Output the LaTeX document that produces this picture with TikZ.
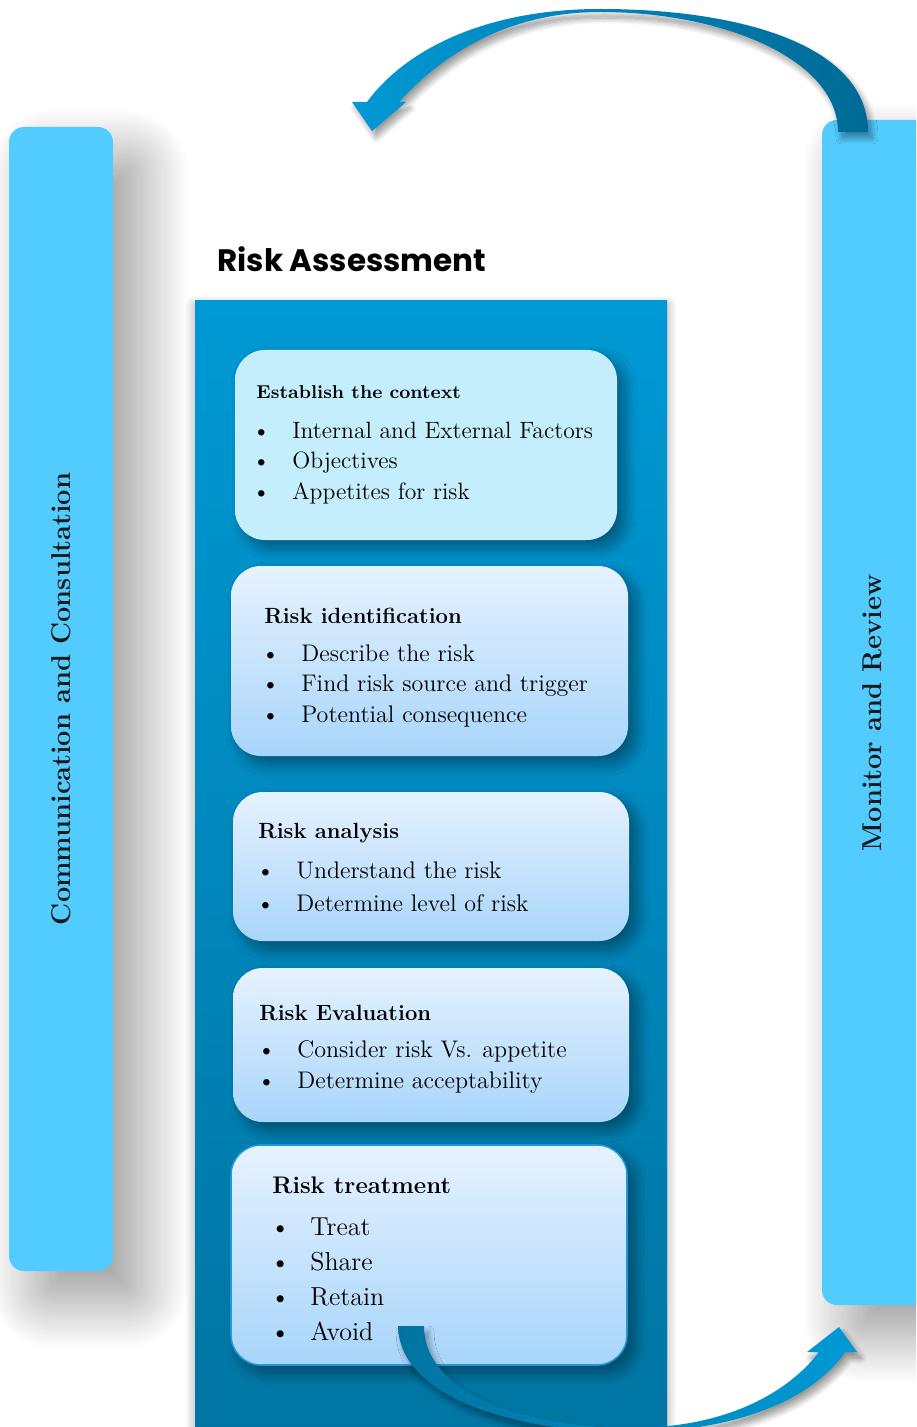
\documentclass[tikz,border=0pt]{standalone}
\usepackage{fontspec}
\newfontfamily\headfont{Poppins}
\usetikzlibrary{positioning,shadows.blur}

\definecolor{barblue}{HTML}{52CCFF}
\definecolor{paneltop}{HTML}{0099D5}
\definecolor{panelbot}{HTML}{0074A1}
\definecolor{ctxfill}{HTML}{C5EEFD}
\definecolor{boxtop}{HTML}{E6F2FF}
\definecolor{boxbot}{HTML}{A8D5FA}
\definecolor{arrowdark}{HTML}{006A96}
\definecolor{arrowlight}{HTML}{0099D6}
\definecolor{edgeblue}{HTML}{1E9BD7}

\begin{document}
\begin{tikzpicture}[x=0.5pt,y=-0.5pt]

\tikzset{sidebar/.style={fill=barblue, rounded corners=7.5pt,
    blur shadow={shadow xshift=14pt, shadow yshift=-15pt, shadow blur radius=24pt,
      shadow blur steps=40, shadow opacity=40}}};
\tikzset{sidelabel/.style={inner sep=0, font=\fontsize{13.6}{16}\selectfont\bfseries, text=black!90}};
\tikzset{riskbox/.style={rounded corners=15pt, inner sep=0,
    top color=boxtop, bottom color=boxbot,
    blur shadow={shadow xshift=4pt, shadow yshift=-4pt, shadow blur radius=6pt,
      shadow blur steps=20, shadow opacity=40}}};
\tikzset{boxtitle/.style={inner sep=0, anchor=base west, font=\fontsize{11}{13}\selectfont\bfseries}};
\tikzset{item/.style={inner sep=0, anchor=base west, font=\fontsize{12}{14}\selectfont}};
\tikzset{flowarrow/.style={blur shadow={shadow xshift=2pt, shadow yshift=-3pt, shadow blur radius=3pt,
      shadow blur steps=12, shadow opacity=40}}};

\useasboundingbox (0,0) rectangle (916,1427);
\clip (0,0) rectangle (916,1427);

% side bars
\fill[sidebar] (9,127) rectangle (113,1271);
\node[sidelabel, rotate=90] (comm) at (61,699) {Communication and Consultation};
\fill[sidebar] (822,120) rectangle (960,1305);
\node[sidelabel, rotate=90] (monitor) at (872,713) {Monitor and Review};

% assessment panel
\node[inner sep=0, anchor=base west, font=\headfont\fontsize{15.5}{18}\selectfont\bfseries] (assess) at (217,272) {Risk Assessment};
\shade[top color=paneltop, bottom color=panelbot,
  blur shadow={shadow xshift=0pt, shadow yshift=-2pt, shadow blur radius=5pt, shadow blur steps=15, shadow opacity=35}]
  (195,301) rectangle (667,1470);

% steps
\node[riskbox, top color=ctxfill, bottom color=ctxfill, minimum width=191pt, minimum height=95pt] (ctx) at (426,445) {};
\node[boxtitle, font=\fontsize{9.3}{11}\selectfont\bfseries] (ctx-t) at (256,399) {Establish the context};
\foreach \txt [count=\i] in {Internal and External Factors, Objectives, Appetites for risk}
  \node[item, font=\fontsize{11.8}{14}\selectfont] (ctx-\i) at (252,{438+30.5*(\i-1)}) {\makebox[20pt][l]{\textbullet}\txt};

\node[riskbox, minimum width=198.5pt, minimum height=95pt] (ident) at (429.5,661) {};
\node[boxtitle] (ident-t) at (264,623) {Risk identification};
\foreach \txt [count=\i] in {Describe the risk, Find risk source and trigger, Potential consequence}
  \node[item] (ident-\i) at (261,{661+30.5*(\i-1)}) {\makebox[20pt][l]{\textbullet}\txt};

\node[riskbox, minimum width=198pt, minimum height=74.5pt] (anal) at (431,866.5) {};
\node[boxtitle] (anal-t) at (258,838) {Risk analysis};
\foreach \txt [count=\i] in {Understand the risk, Determine level of risk}
  \node[item] (anal-\i) at (256,{878+33*(\i-1)}) {\makebox[20pt][l]{\textbullet}\txt};

\node[riskbox, minimum width=198pt, minimum height=77pt] (eval) at (431,1045) {};
\node[boxtitle] (eval-t) at (259,1020) {Risk Evaluation};
\foreach \txt [count=\i] in {Consider risk Vs. appetite, Determine acceptability}
  \node[item] (eval-\i) at (257,{1057+31*(\i-1)}) {\makebox[20pt][l]{\textbullet}\txt};

\node[riskbox, draw=edgeblue, line width=0.8pt, minimum width=198pt, minimum height=110pt] (treat) at (429,1255) {};
\node[boxtitle, font=\fontsize{12}{14}\selectfont\bfseries] (treat-t) at (272,1193) {Risk treatment};
\foreach \txt [count=\i] in {Treat, Share, Retain, Avoid}
  \node[item, font=\fontsize{13}{15}\selectfont] (treat-\i) at (270,{1235+35*(\i-1)}) {\makebox[20pt][l]{\textbullet}\txt};

% loop arrows
\shade[flowarrow, left color=panelbot, right color=arrowlight]
  (398,1326) .. controls (400,1400) and (520,1432) .. (630,1432)
  .. controls (735,1432) and (812,1400) .. (845,1352)
  -- (857,1352) -- (839,1327) -- (807,1352) -- (819,1352)
  .. controls (790,1390) and (730,1428) .. (630,1428)
  .. controls (530,1428) and (424,1395) .. (424,1326) -- cycle;

\shade[flowarrow, left color=arrowlight, right color=arrowdark]
  (868,132) .. controls (868,45) and (740,9) .. (600,9)
  .. controls (485,9) and (405,50) .. (367,102)
  -- (352,102) -- (372,131) -- (406,102) -- (399,102)
  .. controls (440,57) and (505,12) .. (600,12)
  .. controls (725,12) and (838,60) .. (838,132) -- cycle;

\end{tikzpicture}
\end{document}
